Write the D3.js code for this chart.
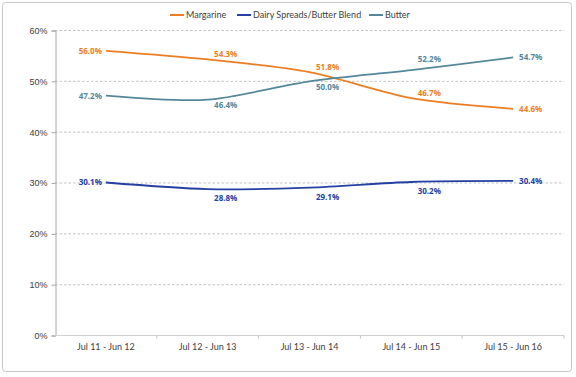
<!DOCTYPE html>
<html>
<head>
<meta charset="utf-8">
<script src="https://cdn.jsdelivr.net/npm/d3@7"></script>
<style>
  body { margin: 0; background: #fff; }
  svg { display: block; font-family: Lato, "Open Sans", "Liberation Sans", sans-serif; }
  .lbl { font-family: "Open Sans", Lato, sans-serif; font-size: 8px; font-weight: 700; }
</style>
</head>
<body>
<svg id="chart" width="576" height="377" viewBox="0 0 576 377"></svg>
<script>
const periods = ["Jul 11 - Jun 12", "Jul 12 - Jun 13", "Jul 13 - Jun 14", "Jul 14 - Jun 15", "Jul 15 - Jun 16"];
const margarine = [56.0, 54.3, 51.8, 46.7, 44.6];
const dairyBlend = [30.1, 28.8, 29.1, 30.2, 30.4];
const butter = [47.2, 46.4, 50.0, 52.2, 54.7];
const yTicks = [0, 10, 20, 30, 40, 50, 60];

// label placement per point: left / right / above / below, and the gap under the line for "below"
const series = [
  { name: "Margarine", values: margarine, color: "#ED7D22", place: ["left", "above", "above", "above", "right"], below: 11 },
  { name: "Dairy Spreads/Butter Blend", values: dairyBlend, color: "#2440A2", place: ["left", "below", "below", "below", "right"], below: 12 },
  { name: "Butter", values: butter, color: "#55879B", place: ["left", "below", "below", "high", "right"], below: 8.5 }
];

const svg = d3.select("#chart");
const plotLeft = 55, plotRight = 564, plotTop = 30.5, plotBottom = 335.5;

// outer frame
svg.append("rect")
  .attr("x", 2.5).attr("y", 2.5)
  .attr("width", 569).attr("height", 369)
  .attr("rx", 3)
  .attr("fill", "#fff")
  .attr("stroke", "#c6c6c6");

const x = d3.scalePoint().domain(periods).range([plotLeft, plotRight]).padding(0.5);
const y = d3.scaleLinear().domain([0, 60]).range([plotBottom, plotTop]);

// gridlines
svg.append("g")
  .selectAll("line")
  .data(yTicks.filter((d) => d > 0))
  .enter()
  .append("line")
  .attr("x1", plotLeft).attr("x2", plotRight)
  .attr("y1", (d) => y(d)).attr("y2", (d) => y(d))
  .attr("stroke", "#b4b4b4")
  .attr("stroke-width", 0.8)
  .attr("stroke-dasharray", "2.5,2");

// y axis
const yAxis = svg.append("g")
  .attr("transform", `translate(${plotLeft + 0.5},0)`)
  .call(d3.axisLeft(y).tickValues(yTicks).tickFormat((d) => d + "%").tickSize(4).tickPadding(4));
yAxis.select(".domain").attr("stroke", "#a6a6a6");
yAxis.selectAll(".tick line").attr("stroke", "#a6a6a6");
yAxis.selectAll("text").attr("fill", "#404040").style("font-size", "9px");

// x axis with ticks between categories
const step = x.step();
const xAxis = svg.append("g").attr("transform", `translate(0,${plotBottom})`);
xAxis.append("line")
  .attr("x1", plotLeft).attr("x2", plotRight)
  .attr("stroke", "#d0d0d0").attr("stroke-width", 1.2);
xAxis.selectAll(".sep")
  .data(periods)
  .enter()
  .append("line")
  .attr("x1", (d) => x(d) + step / 2).attr("x2", (d) => x(d) + step / 2)
  .attr("y1", 0).attr("y2", 3)
  .attr("stroke", "#c0c0c0");
xAxis.selectAll("text")
  .data(periods)
  .enter()
  .append("text")
  .attr("x", (d) => x(d))
  .attr("y", 14.5)
  .attr("text-anchor", "middle")
  .attr("fill", "#404040")
  .style("font-size", "9px")
  .text((d) => d);

// lines
const line = d3.line()
  .x((d, i) => x(periods[i]))
  .y((d) => y(d))
  .curve(d3.curveCardinal.tension(0.15));

svg.append("g")
  .selectAll("path")
  .data(series)
  .enter()
  .append("path")
  .attr("d", (s) => line(s.values))
  .attr("fill", "none")
  .attr("stroke", (s) => s.color)
  .attr("stroke-width", 1.8);

// data labels
series.forEach((s) => {
  svg.append("g")
    .selectAll("text")
    .data(s.values)
    .enter()
    .append("text")
    .attr("class", "lbl")
    .attr("x", (d, i) => {
      const p = s.place[i];
      if (p === "left") return x(periods[i]) - 4;
      if (p === "right") return x(periods[i]) + 6;
      return x(periods[i]) + 18;
    })
    .attr("y", (d, i) => {
      const p = s.place[i];
      if (p === "above") return y(d) - 2.5;
      if (p === "high") return y(d) - 8;
      if (p === "below") return y(d) + s.below;
      return y(d) + 3;
    })
    .attr("text-anchor", (d, i) => (s.place[i] === "left" ? "end" : s.place[i] === "right" ? "start" : "middle"))
    .attr("fill", s.color)
    .text((d) => d.toFixed(1) + "%");
});

// legend
const legendItems = [
  { s: series[0], x: 170 },
  { s: series[1], x: 237 },
  { s: series[2], x: 369 }
];
const legend = svg.append("g").attr("transform", "translate(0,15)");
legendItems.forEach((it) => {
  legend.append("line")
    .attr("x1", it.x).attr("x2", it.x + 14)
    .attr("stroke", it.s.color).attr("stroke-width", 2);
  legend.append("text")
    .attr("x", it.x + 16)
    .attr("y", 3)
    .attr("fill", "#404040")
    .style("font-size", "9px")
    .text(it.s.name);
});
</script>
</body>
</html>
